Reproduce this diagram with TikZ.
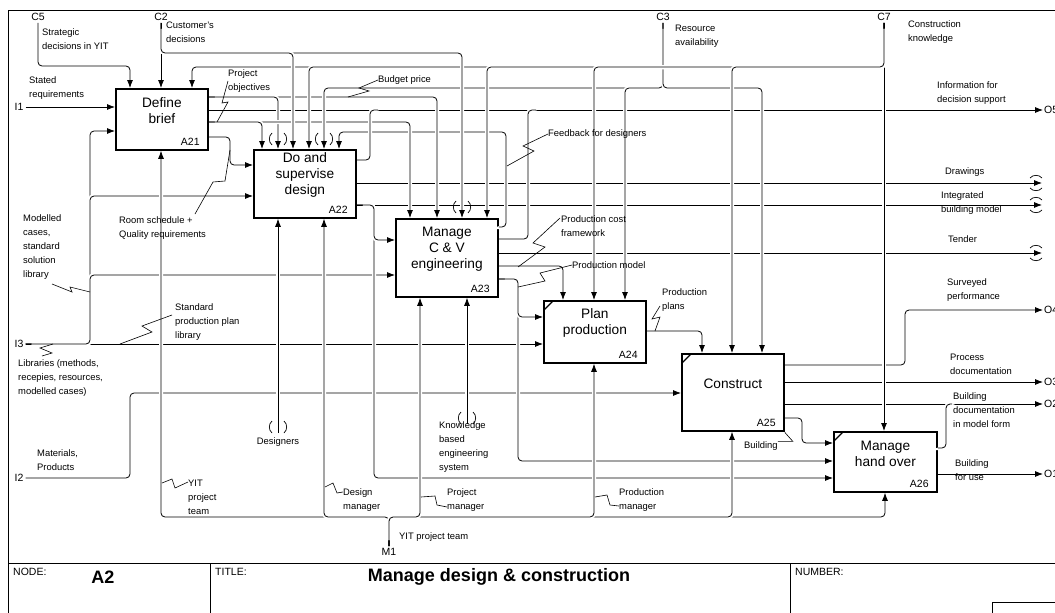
\documentclass[tikz,border=0pt]{standalone}
\usepackage{fontspec}
\setmainfont{Liberation Sans}
\usetikzlibrary{arrows.meta, calc}
\newcommand{\vtun}[2]{\draw[tunnel] ({#1-6},{#2-6}) to[bend right=50] ({#1-6},{#2+6}) ({#1+6},{#2-6}) to[bend left=50] ({#1+6},{#2+6});}
\newcommand{\htun}[2]{\draw[tunnel] ({#1-6},{#2-5}) to[bend left=50] ({#1+6},{#2-5}) ({#1-6},{#2+5}) to[bend right=50] ({#1+6},{#2+5});}
\begin{document}
\begin{tikzpicture}[x=1pt, y=-1pt,
  actbox/.style={draw, line width=1.8pt, minimum width=102pt, inner sep=0pt, anchor=north west},
  boxtitle/.style={font=\fontsize{13.7}{16}\selectfont, align=center},
  boxid/.style={font=\fontsize{10.5}{12}\selectfont, anchor=south east, inner xsep=9pt, inner ysep=5pt},
  note/.style={font=\fontsize{9.4}{14}\selectfont, align=left, anchor=west, inner sep=0pt},
  port/.style={font=\fontsize{10.5}{12}\selectfont, inner sep=2pt},
  foot/.style={font=\fontsize{10.5}{12}\selectfont, anchor=west, inner sep=0pt},
  heading/.style={font=\fontsize{18}{20}\selectfont\bfseries},
  flow/.style={line width=0.8pt, rounded corners=4pt, -{Latex[length=8pt,width=6pt]},
    preaction={draw=white, line width=4pt, -, shorten <=6pt, shorten >=6pt}},
  link/.style={flow, -},
  squig/.style={line width=0.6pt},
  tunnel/.style={line width=0.7pt},
  boxline/.style={line width=1.2pt},
  frame/.style={line width=1pt}]
\useasboundingbox (0,0) rectangle (1055,613);

\draw[frame] (1060,10) -- (8,10) -- (8,620);
\draw[frame] (8,563) -- (1060,563);
\draw[frame] (210,563) -- (210,620) (790,563) -- (790,620);
\draw[frame] (992,620) -- (992,602) -- (1060,602);
\node[foot] (fnode) at (13,572) {NODE:};
\node[heading] (fnum) at (103,577) {A2};
\node[foot] (ftitle) at (215,572) {TITLE:};
\node[heading] (ftext) at (499,577) {Manage design \& construction};
\node[foot] (fnumber) at (795,572) {NUMBER:};

\node[actbox, minimum width=92pt, minimum height=61pt] (a21) at (115,88) {};
\node[actbox, minimum height=68pt] (a22) at (253,149) {};
\node[actbox, minimum height=78pt] (a23) at (395,218) {};
\node[actbox, minimum height=62pt] (a24) at (543,300) {};
\node[actbox, minimum height=77pt] (a25) at (681,353) {};
\node[actbox, minimum width=103pt, minimum height=60pt] (a26) at (833,431) {};
\node[boxtitle] (a21t) at ($(a21.center)+(0,-8.5)$) {Define\\brief};
\node[boxtitle] (a22t) at ($(a22.center)+(0,-8.5)$) {Do and\\supervise\\design};
\node[boxtitle] (a23t) at ($(a23.center)+(0,-8.5)$) {Manage\\C \& V\\engineering};
\node[boxtitle] (a24t) at ($(a24.center)+(0,-8.5)$) {Plan\\production};
\node[boxtitle] (a25t) at ($(a25.center)+(0,-8.5)$) {Construct};
\node[boxtitle] (a26t) at ($(a26.center)+(0,-8.5)$) {Manage\\hand over};
\node[boxid] (a21n) at (a21.south east) {A21};
\node[boxid] (a22n) at (a22.south east) {A22};
\node[boxid] (a23n) at (a23.south east) {A23};
\node[boxid] (a24n) at (a24.south east) {A24};
\node[boxid] (a25n) at (a25.south east) {A25};
\node[boxid] (a26n) at (a26.south east) {A26};
\draw[boxline] ($(a24.north west)+(1,10)$) -- ($(a24.north west)+(10,1)$);
\draw[boxline] ($(a25.north west)+(1,10)$) -- ($(a25.north west)+(10,1)$);
\draw[boxline] ($(a26.north west)+(1,10)$) -- ($(a26.north west)+(10,1)$);

\node[port] (c5) at (38,17) {C5};
\node[port] (c2) at (161,17) {C2};
\node[port] (c3) at (663,17) {C3};
\node[port] (c7) at (884,17) {C7};
\node[port] (i1) at (19,107) {I1};
\node[port] (i3) at (19,344) {I3};
\node[port] (i2) at (19,478) {I2};
\node[port] (m1) at (389,552) {M1};
\node[port, anchor=west, inner sep=1pt] (o5) at (1043,110) {O5};
\node[port, anchor=west, inner sep=1pt] (o4) at (1043,310) {O4};
\node[port, anchor=west, inner sep=1pt] (o3) at (1043,382) {O3};
\node[port, anchor=west, inner sep=1pt] (o2) at (1043,404) {O2};
\node[port, anchor=west, inner sep=1pt] (o1) at (1043,474) {O1};
\coordinate (odraw) at (1042,183);
\coordinate (obim) at (1042,205);
\coordinate (otend) at (1042,253);
\coordinate (des) at (278,433);
\coordinate (kbe) at (467,424);

\draw[flow] (a21.east|-0,110) -- (o5.west);
\draw[flow] (a22.east|-0,183) -- (odraw);
\draw[flow] (a22.east|-0,205) -- (obim);
\draw[flow] (a23.east|-0,253) -- (otend);
\draw[flow] (a25.east|-0,365) -| (905,310) -- (o4.west);
\draw[flow] (a25.east|-0,382) -- (o3.west);
\draw[flow] (a25.east|-0,404) -- (o2.west);
\draw[flow] (a26.east|-0,474) -- (o1.west);
\draw[link] (a26.east|-0,448) -| (946,404) -- (952,404);

\draw[flow] (i1.east) -- (a21.west|-i1.east);
\draw[flow] (i3.east) -- (a24.west|-i3.east);
\draw[flow] (i3.east) -- (90,344) |- (a21.west|-0,131);
\draw[flow] (i3.east) -- (90,344) |- (a22.west|-0,196);
\draw[flow] (i3.east) -- (90,344) |- (a23.west|-0,275);
\draw[flow] (i2.east) -| (130,393) -- (a25.west|-0,393);

\draw[flow] (a23.east|-0,227) -| (506,132) -| (a22.north-|339,0);
\draw[flow] (a21.east|-0,97) -| (a23.north-|437,0);
\draw[flow] (a21.east|-0,97) -| (a22.north-|278,0);
\draw[flow] (a21.east|-0,122) -| (a23.north-|410,0);
\draw[flow] (a21.east|-0,122) -| (a22.north-|262,0);
\draw[flow] (a21.east|-0,137) -| (230,165) -- (a22.west|-0,165);
\draw[link] (a22.east|-0,160) -| (370,110) -- (378,110);
\draw[link] (a23.east|-0,239) -| (528,110) -- (536,110);
\draw[flow] (a23.east|-0,266) -| (a24.north-|563,0);
\draw[flow] (a23.east|-0,279) -| (518,461) -- (a26.west|-0,461);
\draw[flow] (a23.east|-0,279) -| (518,317) -- (a24.west|-0,317);
\draw[flow] (a22.east|-0,205) -| (374,478) -- (a26.west|-0,478);
\draw[flow] (a22.east|-0,205) -| (374,240) -- (a23.west|-0,240);
\draw[flow] (a24.east|-0,331) -| (a25.north-|702,0);
\draw[flow] (a25.east|-0,418) -| (802,443) -- (a26.west|-0,443);

\draw[flow] (c3.south) |- (324,88) -- (a22.north-|324,0);
\draw[flow] (c3.south) |- (625,88) -- (a24.north-|625,0);
\draw[flow] (c3.south) |- (762,88) -- (a25.north-|762,0);
\draw[flow] (c7.south) -- (a26.north-|c7.south);
\draw[flow] (c7.south) |- (192,67) -- (a21.north-|192,0);
\draw[flow] (c7.south) |- (309,67) -- (a22.north-|309,0);
\draw[flow] (c7.south) |- (487,67) -- (a23.north-|487,0);
\draw[flow] (c7.south) |- (594,67) -- (a24.north-|594,0);
\draw[flow] (c7.south) |- (732,67) -- (a25.north-|732,0);
\draw[flow] (c2.south) -- (a21.north-|c2.south);
\draw[flow] (c2.south) |- (462,53) -- (a23.north-|462,0);
\draw[flow] (c2.south) |- (293,53) -- (a22.north-|293,0);
\draw[flow] (c5.south) |- (130,66) -- (a21.north-|130,0);

\draw[flow] (m1.north) |- (161,517) -- (a21.south-|161,0);
\draw[flow] (m1.north) |- (324,517) -- (a22.south-|324,0);
\draw[flow] (m1.north) |- (885,517) -- (a26.south-|885,0);
\draw[flow] (m1.north) |- (732,517) -- (a25.south-|732,0);
\draw[flow] (m1.north) |- (594,517) -- (a24.south-|594,0);
\draw[flow] (m1.north) |- (420,517) -- (a23.south-|420,0);
\draw[flow] (des) -- (a22.south-|des);
\draw[flow] (kbe) -- (a23.south-|kbe);

\vtun{278}{139}
\vtun{324}{139}
\vtun{462}{207}
\vtun{278}{427}
\vtun{467}{418}
\htun{1036}{183}
\htun{1036}{205}
\htun{1036}{253}

\node[note] (lbsd) at (42,39) {Strategic\\decisions in YIT};
\node[note] (lbcd) at (166,32) {Customer's\\decisions};
\node[note] (lbsr) at (29,88) {Stated\\requirements};
\node[note] (lbobj) at (228,81) {Project\\objectives};
\node[note] (lbbud) at (378,80) {Budget price};
\node[note] (lbres) at (675,36) {Resource\\availability};
\node[note] (lbck) at (908,32) {Construction\\knowledge};
\node[note] (lbinfo) at (937,93.5) {Information for\\decision support};
\node[note] (lbfb) at (548,134) {Feedback for designers};
\node[note] (lbdraw) at (945,172) {Drawings};
\node[note] (lbbim) at (941,203.5) {Integrated\\building model};
\node[note] (lbtend) at (948,239) {Tender};
\node[note] (lbroom) at (119,228) {Room schedule +\\Quality requirements};
\node[note] (lbmod) at (23,247.5) {Modelled\\cases,\\standard\\solution\\library};
\node[note] (lbpcf) at (561,226.5) {Production cost\\framework};
\node[note] (lbpmod) at (572,265) {Production model};
\node[note] (lbsurv) at (947,290.5) {Surveyed\\performance};
\node[note] (lbplans) at (662,300) {Production\\plans};
\node[note] (lbspp) at (175,322) {Standard\\production plan\\library};
\node[note] (lblib) at (18,378) {Libraries (methods,\\recepies, resources,\\modelled cases)};
\node[note] (lbproc) at (950,364) {Process\\documentation};
\node[note] (lbbdoc) at (953,410) {Building\\documentation\\in model form};
\node[note] (lbbld) at (744,446) {Building};
\node[note] (lbmat) at (37,460.5) {Materials,\\Products};
\node[note, anchor=center] (lbdes) at (278,442) {Designers};
\node[note] (lbkbe) at (439,447) {Knowledge\\based\\engineering\\system};
\node[note] (lbbfu) at (955,470.5) {Building\\for use};
\node[note] (lbyit) at (188,497) {YIT\\project\\team};
\node[note] (lbdm) at (343,500) {Design\\manager};
\node[note] (lbpjm) at (447,500) {Project\\manager};
\node[note] (lbprm) at (619,500) {Production\\manager};
\node[note] (lbm1) at (399,537) {YIT project team};

\draw[squig] (lbobj.west) -- ++(-6,22) -- ++(6,-1) -- ++(-11,20);
\draw[squig] (lbbud.west) -- ++(-19,8) -- ++(10,3) -- ++(-21,6);
\draw[squig] (lbfb.west) -- ++(-25,12) -- ++(11,5) -- ++(-27,15);
\draw[squig] (lbroom.west) ++(76,-14) -- ++(18,-32) -- ++(12,-1) -- ++(5,-31);
\draw[squig] (lbmod.west) ++(29,36.5) -- ++(20,8) -- ++(-2,-5) -- ++(20,5);
\draw[squig] (lbspp.west) ++(-3,-7) -- ++(-30,11) -- ++(10,6) -- ++(-32,12);
\draw[squig] (lblib.west) ++(35,-34) -- ++(-13,4) -- ++(12,5) -- ++(-10,3);
\draw[squig] (lbpcf.west) ++(-1,-8.5) -- ++(-27,25) -- ++(12,4) -- ++(-27,20);
\draw[squig] (lbpmod.west) -- ++(-32,8) -- ++(5,8) -- ++(-27,6);
\draw[squig] (lbplans.west) ++(-2,6) -- ++(-8,13) -- ++(8,-2) -- ++(-5,14);
\draw[squig] (lbbld.north east) -- ++(15,0) -- ++(-8,-9);
\draw[squig] (lbyit.west) ++(0,-15) -- ++(-13,6) -- ++(-3,-9) -- ++(-10,4);
\draw[squig] (lbdm.west) ++(0,-8) -- ++(-6,1) -- ++(-4,-10) -- ++(-8,4);
\draw[squig] (lbpjm.west) ++(0,7) -- ++(-10,-2) -- ++(-2,-9) -- ++(-14,1);
\draw[squig] (lbprm.west) ++(0,6) -- ++(-9,-1) -- ++(-3,-10) -- ++(-12,2);
\end{tikzpicture}
\end{document}
